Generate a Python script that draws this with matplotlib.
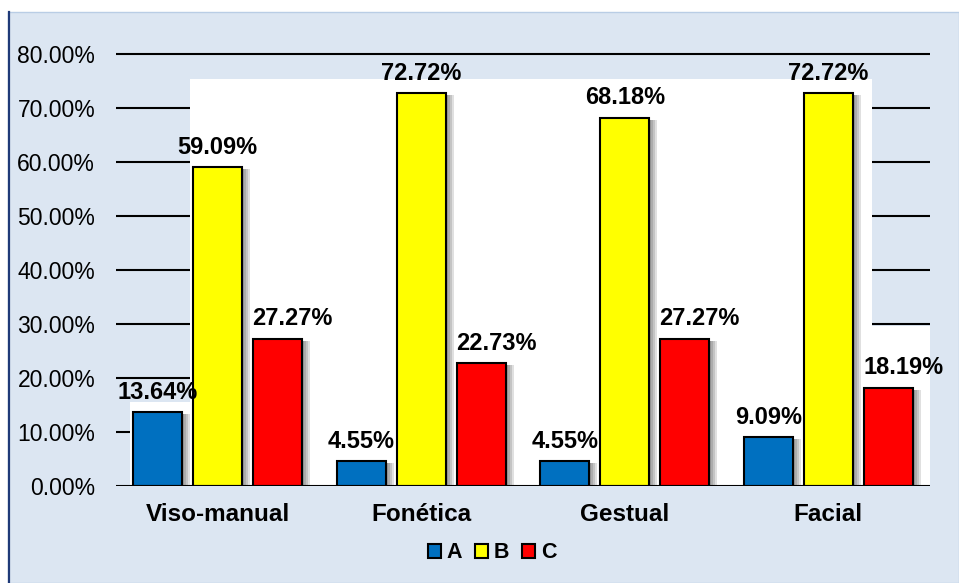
import matplotlib
matplotlib.use("Agg")
import matplotlib.pyplot as plt
from matplotlib.patches import Rectangle
import numpy as np

plt.rcParams['font.family'] = ['Liberation Sans', 'DejaVu Sans']

categories = ['Viso-manual', 'Fonética', 'Gestual', 'Facial']
series_names = ['A', 'B', 'C']
values_a = [13.64, 4.55, 4.55, 9.09]
values_b = [59.09, 72.72, 68.18, 72.72]
values_c = [27.27, 22.73, 27.27, 18.19]
labels_a = ['13.64%', '4.55%', '4.55%', '9.09%']
labels_b = ['59.09%', '72.72%', '68.18%', '72.72%']
labels_c = ['27.27%', '22.73%', '27.27%', '18.19%']
yticks = [0, 10, 20, 30, 40, 50, 60, 70, 80]

colors = ['#0070C0', '#FFFF00', '#FF0000']
bg = '#DCE6F2'

W, H = 959, 583
fig = plt.figure(figsize=(W / 100, H / 100), dpi=100)
fig.patch.set_facecolor('white')

# chart area background + border, drawn in a background axes
bgax = fig.add_axes([0, 0, 1, 1], zorder=-1)
bgax.set_xlim(0, W)
bgax.set_ylim(H, 0)
bgax.axis('off')
bgax.add_patch(Rectangle((8, 12), W - 8, H - 12, facecolor=bg, edgecolor='#B9CDE5', linewidth=1))
bgax.plot([9, 9], [12, H], color='#1F3A78', linewidth=1.6)

ax_left, ax_right = 116 / W, 930 / W
ymax = 82
ax_bottom = 1 - 486 / H
ax_h = ymax * 5.4 / H
ax = fig.add_axes([ax_left, ax_bottom, ax_right - ax_left, ax_h])
ax.set_facecolor('none')

x = np.arange(len(categories))
bw = 0.24
off = 0.295
ax.set_xlim(-0.5, 3.5)
ax.set_ylim(0, ymax)

# gridlines
for t in yticks[1:]:
    ax.axhline(t, color='black', linewidth=1.5, zorder=1)

# white plot-area patches (as rendered in original)
ax.add_patch(Rectangle((-0.135, 0), 3.35, 75.3, facecolor='white', edgecolor='none', zorder=2))
ax.add_patch(Rectangle((3.2, 0), 0.3, 29.6, facecolor='white', edgecolor='none', zorder=2))
ax.add_patch(Rectangle((-0.43, 0), 0.3, 15.6, facecolor='white', edgecolor='none', zorder=2))

px = 1 / 203.5
py = 1 / 5.4
series = [values_a, values_b, values_c]
labels = [labels_a, labels_b, labels_c]
label_dx = [0, 0, 15 * px]
for i, (vals, col) in enumerate(zip(series, colors)):
    pos = x + (i - 1) * off
    # soft drop shadow
    for k in range(1, 5):
        ax.bar(pos + 2 * k * px, np.array(vals) - 2 * py, width=bw, bottom=0,
               color='black', alpha=0.12, linewidth=0, zorder=3)
    ax.bar(pos, vals, width=bw, color=col, edgecolor='black', linewidth=1.5, zorder=4)
    for p, v, lab in zip(pos, vals, labels[i]):
        ax.annotate(lab, (p + label_dx[i], v), xytext=(0, 6), textcoords='offset points',
                    ha='center', va='bottom', fontsize=17, fontweight='bold', zorder=5)

ax.axhline(0, color='black', linewidth=1.5, zorder=6)

ax.set_yticks(yticks)
ax.set_yticklabels(['%.2f%%' % t for t in yticks], fontsize=16.5)
ax.tick_params(axis='y', length=0, pad=15)
ax.set_xticks(x)
ax.set_xticklabels(categories, fontsize=17.5, fontweight='bold')
ax.tick_params(axis='x', length=0, pad=12)
for s in ax.spines.values():
    s.set_visible(False)

handles = [Rectangle((0, 0), 1, 1, facecolor=c, edgecolor='black', linewidth=1.5) for c in colors]
fig.legend(handles, series_names, loc='center', bbox_to_anchor=(492 / W, 1 - 553 / H), ncol=3,
           frameon=False, prop={'weight': 'bold', 'size': 15.5}, handlelength=0.62, handleheight=0.62,
           handletextpad=0.25, columnspacing=0.6)

fig.savefig('out.png', dpi=100, facecolor=fig.get_facecolor())
